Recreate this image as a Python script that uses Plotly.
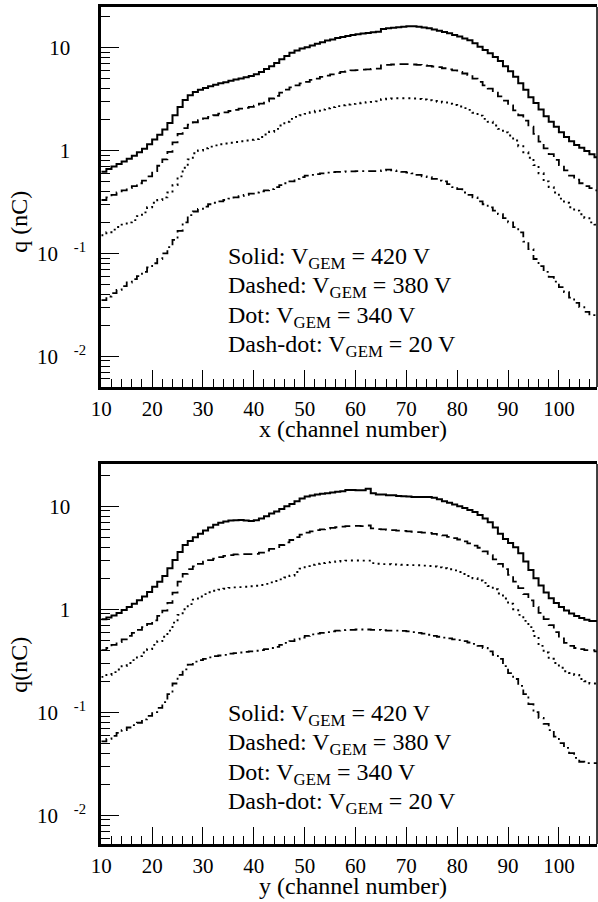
import plotly.graph_objects as go

channels = list(range(10, 108))

x_solid = [0.62,0.66,0.70,0.74,0.78,0.83,0.89,0.96,1.04,1.15,1.28,1.42,1.60,1.85,2.2,2.65,3.1,3.45,3.7,3.9,
           4.05,4.2,4.35,4.5,4.6,4.75,4.9,5.0,5.15,5.3,5.5,5.8,6.2,6.6,7.1,7.7,8.3,8.9,9.4,9.8,
           10.1,10.5,10.9,11.3,11.7,12.0,12.4,12.7,13.0,13.3,13.5,13.7,13.9,14.1,14.3,15.2,15.4,15.6,15.8,16.0,
           16.1,16.1,16.0,15.7,15.4,15.0,14.6,14.2,13.8,13.3,12.8,12.3,11.8,11.0,10.2,9.5,8.8,8.1,7.4,6.6,
           5.9,5.2,4.5,3.9,3.3,2.9,2.5,2.15,1.9,1.7,1.5,1.35,1.23,1.13,1.06,0.99,0.92,0.86]
x_dashed = [0.33,0.35,0.37,0.39,0.41,0.43,0.45,0.48,0.51,0.56,0.63,0.71,0.82,0.97,1.2,1.45,1.65,1.78,1.88,1.97,
            2.05,2.12,2.2,2.28,2.35,2.42,2.48,2.55,2.6,2.65,2.72,2.85,3.0,3.2,3.4,3.65,3.9,4.1,4.3,4.5,
            4.65,4.85,5.0,5.2,5.35,5.5,5.65,5.8,5.9,6.0,6.05,6.1,6.15,6.2,6.25,6.7,6.8,6.85,6.9,6.9,
            6.9,6.85,6.8,6.75,6.65,6.55,6.45,6.3,6.15,6.0,5.8,5.6,5.4,5.0,4.65,4.3,4.0,3.65,3.35,3.05,
            2.75,2.45,2.2,1.95,1.7,1.45,1.22,1.05,0.92,0.81,0.72,0.64,0.57,0.52,0.48,0.45,0.43,0.41]
x_dot = [0.15,0.16,0.17,0.18,0.19,0.20,0.21,0.23,0.25,0.28,0.31,0.33,0.35,0.39,0.46,0.56,0.68,0.82,0.94,1.0,
         1.05,1.09,1.12,1.15,1.17,1.19,1.21,1.23,1.25,1.27,1.29,1.35,1.43,1.52,1.62,1.75,1.9,2.03,2.12,2.2,
         2.27,2.35,2.43,2.5,2.57,2.64,2.7,2.75,2.8,2.84,2.88,2.92,2.95,2.97,3.0,3.15,3.18,3.2,3.22,3.22,
         3.22,3.2,3.17,3.13,3.08,3.03,2.98,2.93,2.85,2.77,2.68,2.58,2.48,2.33,2.18,2.03,1.9,1.75,1.62,1.5,
         1.4,1.25,1.1,0.96,0.85,0.72,0.6,0.5,0.44,0.39,0.34,0.31,0.28,0.26,0.24,0.22,0.2,0.19]
x_dashdot = [0.035,0.038,0.041,0.044,0.048,0.052,0.056,0.06,0.066,0.073,0.08,0.088,0.1,0.115,0.135,0.165,0.2,0.235,0.255,0.27,
             0.285,0.3,0.31,0.32,0.33,0.34,0.35,0.36,0.37,0.38,0.39,0.4,0.41,0.42,0.44,0.46,0.48,0.5,0.53,0.55,
             0.57,0.58,0.59,0.6,0.61,0.615,0.62,0.62,0.625,0.625,0.63,0.63,0.63,0.63,0.63,0.64,0.65,0.64,0.63,0.62,
             0.61,0.6,0.58,0.56,0.55,0.53,0.51,0.5,0.47,0.44,0.42,0.39,0.37,0.35,0.32,0.3,0.28,0.26,0.24,0.22,
             0.2,0.18,0.16,0.13,0.11,0.088,0.075,0.066,0.059,0.053,0.047,0.042,0.037,0.033,0.03,0.027,0.025,0.024]

y_solid = [0.8,0.83,0.87,0.92,0.98,1.05,1.13,1.22,1.33,1.47,1.65,1.85,2.1,2.5,3.0,3.6,4.2,4.6,5.0,5.4,
           5.8,6.2,6.6,6.9,7.1,7.25,7.3,7.35,7.25,7.2,7.3,7.6,8.0,8.5,8.9,9.4,10.0,10.5,11.2,11.9,
           12.4,12.7,13.0,13.2,13.4,13.6,13.8,14.0,14.4,14.4,14.3,14.3,14.8,13.4,13.0,13.0,12.8,12.8,12.6,12.5,
           12.4,12.3,12.3,12.3,12.3,12.1,11.7,11.2,10.8,10.4,10.0,9.6,9.2,8.8,8.2,7.6,7.0,6.2,5.4,4.8,
           4.4,4.0,3.5,2.9,2.4,2.0,1.7,1.45,1.28,1.15,1.05,0.97,0.91,0.86,0.82,0.79,0.77,0.77]
y_dashed = [0.4,0.42,0.45,0.48,0.51,0.55,0.59,0.63,0.67,0.72,0.78,0.86,0.97,1.15,1.45,1.85,2.2,2.45,2.6,2.75,
            2.9,3.0,3.1,3.2,3.3,3.35,3.4,3.42,3.42,3.42,3.45,3.55,3.7,3.85,4.0,4.2,4.45,4.7,5.0,5.3,
            5.55,5.7,5.85,5.95,6.05,6.15,6.25,6.35,6.4,6.45,6.45,6.4,6.5,6.1,6.0,5.95,5.9,5.85,5.8,5.75,
            5.7,5.65,5.6,5.55,5.5,5.4,5.3,5.2,5.05,4.9,4.75,4.55,4.35,4.15,3.95,3.65,3.35,3.05,2.75,2.45,
            2.15,1.85,1.6,1.4,1.22,1.05,0.92,0.8,0.7,0.6,0.52,0.47,0.44,0.42,0.41,0.4,0.4,0.39]
y_dot = [0.22,0.23,0.245,0.26,0.28,0.3,0.32,0.35,0.38,0.41,0.45,0.49,0.54,0.62,0.74,0.88,1.0,1.12,1.24,1.33,
         1.4,1.46,1.51,1.55,1.58,1.61,1.63,1.64,1.65,1.67,1.69,1.72,1.76,1.82,1.88,1.95,2.03,2.12,2.3,2.48,
         2.62,2.7,2.76,2.81,2.85,2.88,2.91,2.94,2.96,2.97,2.97,2.96,2.96,2.8,2.76,2.74,2.73,2.72,2.71,2.7,
         2.69,2.68,2.67,2.65,2.63,2.6,2.55,2.5,2.44,2.38,2.3,2.2,2.1,2.0,1.9,1.8,1.68,1.56,1.42,1.27,
         1.13,1.0,0.88,0.77,0.67,0.55,0.44,0.38,0.33,0.3,0.27,0.25,0.24,0.23,0.21,0.2,0.19,0.19]
y_dashdot = [0.052,0.055,0.059,0.063,0.067,0.071,0.075,0.079,0.085,0.092,0.1,0.11,0.125,0.15,0.19,0.23,0.26,0.29,0.31,0.32,
             0.33,0.34,0.35,0.355,0.36,0.37,0.375,0.38,0.385,0.39,0.395,0.4,0.41,0.42,0.43,0.45,0.47,0.49,0.51,0.53,
             0.55,0.57,0.58,0.59,0.6,0.61,0.62,0.625,0.63,0.63,0.635,0.635,0.635,0.63,0.63,0.625,0.62,0.62,0.62,0.615,
             0.61,0.6,0.59,0.58,0.565,0.55,0.54,0.53,0.52,0.51,0.5,0.49,0.475,0.46,0.44,0.42,0.39,0.36,0.33,0.28,
             0.24,0.21,0.18,0.15,0.12,0.1,0.088,0.077,0.067,0.058,0.05,0.045,0.04,0.036,0.033,0.032,0.032,0.032]

x_ticks = [10, 20, 30, 40, 50, 60, 70, 80, 90, 100]
y_tickvals = [0.01, 0.1, 1, 10]
y_ticktext = ["10&nbsp;&nbsp;&nbsp;<sup>-2</sup>", "10&nbsp;&nbsp;&nbsp;<sup>-1</sup>",
              "1&nbsp;&nbsp;&nbsp;", "10&nbsp;&nbsp;&nbsp;"]
y_minor = [m * d for d in [0.001, 0.01, 0.1, 1, 10] for m in range(2, 10)]
legend_lines = ["Solid: V<sub>GEM</sub> = 420 V", "Dashed: V<sub>GEM</sub> = 380 V",
                "Dot: V<sub>GEM</sub> = 340 V", "Dash-dot: V<sub>GEM</sub> = 20 V"]

W, H = 598, 902
FONT = "Liberation Serif"
styles = [dict(dash="solid", width=2.0), dict(dash="9px,5px", width=1.8),
          dict(dash="2px,4px", width=1.9), dict(dash="8px,4px,2px,4px", width=1.8)]

edges = channels + [channels[-1] + 1]

fig = go.Figure()
panels = [
    dict(xa="x", ya="y", series=[x_solid, x_dashed, x_dot, x_dashdot]),
    dict(xa="x2", ya="y2", series=[y_solid, y_dashed, y_dot, y_dashdot]),
]
for p in panels:
    for vals, st in zip(p["series"], styles):
        fig.add_trace(go.Scatter(x=edges, y=vals + [vals[-1]], mode="lines", line_shape="hv",
                                 line=dict(color="black", **st), xaxis=p["xa"], yaxis=p["ya"],
                                 showlegend=False, hoverinfo="skip"))

def px_x(v):
    return v / W

def px_y(v):
    return 1 - v / H

tickfont = dict(family=FONT, size=21, color="black")

def xaxis_cfg(top, bottom, anchor):
    return dict(domain=[px_x(92), px_x(597)], anchor=anchor, range=[10, 107.5],
                tickmode="array", tickvals=x_ticks, ticks="inside", ticklen=17, tickwidth=1.2,
                tickcolor="black", minor=dict(dtick=2, tick0=10, ticks="inside", ticklen=8,
                                              tickwidth=1, tickcolor="black", showgrid=False),
                showline=True, linewidth=3, linecolor="black", mirror=True,
                showgrid=False, zeroline=False, tickfont=tickfont, ticklabelstandoff=1)

def yaxis_cfg(top, bottom, anchor, rng):
    return dict(domain=[px_y(bottom), px_y(top)], anchor=anchor, type="log", range=rng,
                tickmode="array", tickvals=y_tickvals, ticktext=y_ticktext,
                ticks="inside", ticklen=18, tickwidth=1.2, tickcolor="black",
                minor=dict(tickvals=y_minor, ticks="inside", ticklen=9, tickwidth=1,
                           tickcolor="black", showgrid=False),
                showline=True, linewidth=3, linecolor="black", mirror=False,
                showgrid=False, zeroline=False, tickfont=tickfont, ticklabelstandoff=8)

fig.update_layout(
    width=W, height=H, autosize=False,
    margin=dict(l=0, r=0, t=0, b=0),
    paper_bgcolor="white", plot_bgcolor="white",
    xaxis=xaxis_cfg(7, 387, "y"),
    yaxis=yaxis_cfg(7, 387, "x", [-2.30, 1.395]),
    xaxis2=xaxis_cfg(464, 844, "y2"),
    yaxis2=yaxis_cfg(464, 844, "x2", [-2.28, 1.41]),
)

# thin right frame edges
for xr, yr in [("x domain", "y domain"), ("x2 domain", "y2 domain")]:
    fig.add_shape(type="line", xref=xr, yref=yr, x0=1, x1=1, y0=0, y1=1,
                  line=dict(color="black", width=1.5))

ann_font = dict(family=FONT, size=24, color="black")
title_font = dict(family=FONT, size=24, color="black")
annotations = []
# axis titles
annotations.append(dict(text="x (channel number)", x=px_x(348), y=px_y(429), xref="paper", yref="paper",
                        showarrow=False, xanchor="center", yanchor="middle", font=title_font))
annotations.append(dict(text="y (channel number)", x=px_x(348), y=px_y(886), xref="paper", yref="paper",
                        showarrow=False, xanchor="center", yanchor="middle", font=title_font))
annotations.append(dict(text="q (nC)", x=px_x(8), y=px_y(222), xref="paper", yref="paper",
                        showarrow=False, xanchor="center", yanchor="middle", textangle=-90, font=title_font))
annotations.append(dict(text="q(nC)", x=px_x(8), y=px_y(665), xref="paper", yref="paper",
                        showarrow=False, xanchor="center", yanchor="middle", textangle=-90, font=title_font))
# legends
for top in (7, 464):
    for i, t in enumerate(legend_lines):
        annotations.append(dict(text=t, x=px_x(219), y=px_y(top + 251 + i * 29.3), xref="paper", yref="paper",
                                showarrow=False, xanchor="left", yanchor="middle", font=ann_font))
fig.update_layout(annotations=annotations)

fig.write_html("out.html")
